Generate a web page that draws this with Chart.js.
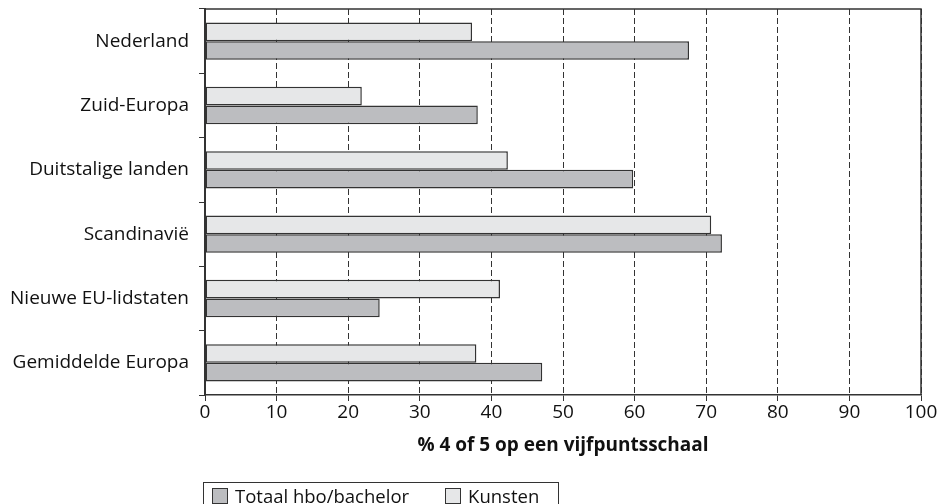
<!DOCTYPE html>
<html>
<head>
<meta charset="utf-8">
<script src="https://cdn.jsdelivr.net/npm/chart.js@4/dist/chart.umd.min.js"></script>
<style>
  html, body { margin: 0; padding: 0; background: #fff; }
  #wrap { position: relative; width: 942px; height: 504px; }
  #legend {
    position: absolute; left: 203px; top: 482px; height: 30px;
    border: 1px solid #333; box-sizing: border-box;
    font-family: "Open Sans", sans-serif; font-size: 18.5px; color: #111;
    display: flex; align-items: flex-start; padding: 0 19px 0 8px;
  }
  #legend .item { display: flex; align-items: center; margin-right: 36px; }
  #legend .item:last-child { margin-right: 0; }
  #legend .sw { width: 14px; height: 14px; border: 1px solid #333; margin-right: 7px; }
</style>
</head>
<body>
<div id="wrap">
  <canvas id="chart" width="942" height="504"></canvas>
  <div id="legend">
    <div class="item"><span class="sw" style="background:#bcbdc0"></span>Totaal hbo/bachelor</div>
    <div class="item"><span class="sw" style="background:#e6e7e8"></span>Kunsten</div>
  </div>
</div>
<script>
// categories and values
const regions = ['Nederland', 'Zuid-Europa', 'Duitstalige landen', 'Scandinavië', 'Nieuwe EU-lidstaten', 'Gemiddelde Europa'];
const kunsten = [37.3, 21.9, 42.3, 70.7, 41.2, 37.9];
const totaal = [67.6, 38.1, 59.8, 72.2, 24.4, 47.1];
const xTicks = [0, 10, 20, 30, 40, 50, 60, 70, 80, 90, 100];

const fontFamily = '"Open Sans", sans-serif';

// top and right frame lines of the plot
const frame = {
    id: 'frame',
    afterDraw(chart) {
        const { ctx, chartArea: a } = chart;
        ctx.save();
        ctx.strokeStyle = '#333';
        ctx.lineWidth = 1.5;
        ctx.beginPath();
        ctx.moveTo(a.left, a.top);
        ctx.lineTo(a.right, a.top);
        ctx.lineTo(a.right, a.bottom);
        ctx.stroke();
        ctx.restore();
    }
};

new Chart(document.getElementById('chart'), {
    type: 'bar',
    data: {
        labels: regions,
        datasets: [
            { label: 'Kunsten', data: kunsten, backgroundColor: '#e6e7e8', borderColor: '#333', borderWidth: 1.5, borderSkipped: false },
            { label: 'Totaal hbo/bachelor', data: totaal, backgroundColor: '#bcbdc0', borderColor: '#333', borderWidth: 1.5, borderSkipped: false }
        ]
    },
    options: {
        indexAxis: 'y',
        responsive: false,
        animation: false,
        layout: { padding: { left: 0, right: 21, top: 9, bottom: 43 } },
        datasets: { bar: { categoryPercentage: 0.58, barPercentage: 1.0 } },
        plugins: { legend: { display: false }, tooltip: { enabled: false } },
        scales: {
            x: {
                min: 0, max: 100,
                afterBuildTicks: (axis) => { axis.ticks = xTicks.map(v => ({ value: v })); },
                afterFit: (axis) => { axis.height = 66; axis.paddingLeft = 0; axis.paddingRight = 0; },
                grid: { color: '#333', lineWidth: 1, tickLength: 6, tickBorderDash: [] },
                border: { color: '#333', width: 1.5, dash: [6, 3] },
                ticks: { color: '#111', font: { family: fontFamily, size: 19 }, padding: 0, maxRotation: 0 },
                title: { display: true, text: '% 4 of 5 op een vijfpuntsschaal', color: '#111', font: { family: fontFamily, size: 19, weight: 'bold' }, padding: { top: 8 } }
            },
            y: {
                afterFit: (axis) => { axis.width = 205; axis.paddingTop = 0; axis.paddingBottom = 0; },
                grid: { offset: true, drawOnChartArea: false, color: '#333', tickLength: 6 },
                border: { color: '#333', width: 2 },
                ticks: { color: '#111', font: { family: fontFamily, size: 19 }, padding: 10 }
            }
        }
    },
    plugins: [frame]
});
</script>
</body>
</html>
